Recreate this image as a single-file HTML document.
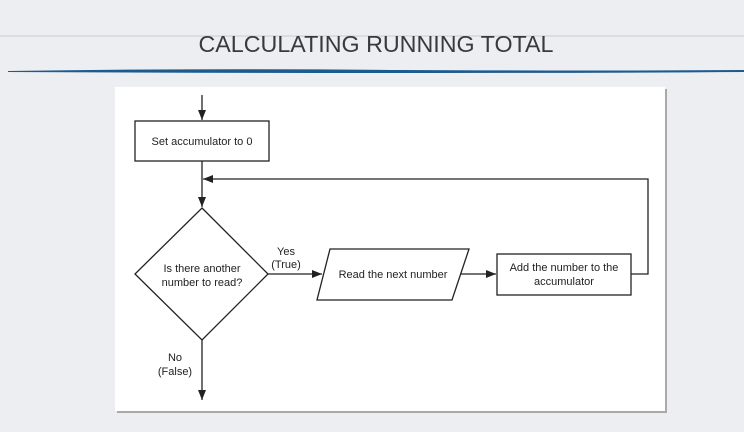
<!DOCTYPE html>
<html><head><style>
html,body{margin:0;padding:0;width:744px;height:432px;overflow:hidden;background:#eceef2;font-family:"Liberation Sans",sans-serif;}
</style></head><body>
<svg width="744" height="432" xmlns="http://www.w3.org/2000/svg" style="position:absolute;left:0;top:0">
<defs><marker id="a" markerWidth="10" markerHeight="8" refX="10" refY="4" orient="auto" markerUnits="userSpaceOnUse"><path d="M0,0 L10,4 L0,8z" fill="#222"/></marker></defs>
<line x1="0" y1="36" x2="744" y2="36" stroke="#c8c9cc" stroke-width="1"/>
<text x="376" y="52" text-anchor="middle" font-family="Liberation Sans,sans-serif" font-size="23" fill="#3a3a3a" textLength="355" lengthAdjust="spacingAndGlyphs">CALCULATING RUNNING TOTAL</text>
<path d="M8,71 Q200,68 400,70 Q600,71 744,70 L744,72 Q600,73 400,73 Q200,73 8,72z" fill="#1d5a8e"/>
<rect x="117" y="89" width="550" height="324" fill="#a9a9a9"/>
<rect x="115" y="87" width="550" height="324" fill="#fff"/>
<g stroke="#222" stroke-width="1.3" fill="none" font-family="Liberation Sans,sans-serif">
<line x1="202" y1="95" x2="202" y2="120" marker-end="url(#a)"/>
<rect x="135" y="121" width="134" height="40"/>
<line x1="202" y1="161" x2="202" y2="207" marker-end="url(#a)"/>
<polyline points="631,274 648,274 648,179 203,179" marker-end="url(#a)"/>
<polygon points="202,208 268,274 202,340 135,274"/>
<line x1="268" y1="274" x2="322" y2="274" marker-end="url(#a)"/>
<polygon points="330,249 469,249 452,300 317,300"/>
<line x1="461" y1="274" x2="496" y2="274" marker-end="url(#a)"/>
<rect x="497" y="254" width="134" height="41"/>
<line x1="202" y1="340" x2="202" y2="400" marker-end="url(#a)"/>
</g>
<g font-family="Liberation Sans,sans-serif" font-size="11" fill="#222" text-anchor="middle">
<text x="202" y="145">Set accumulator to 0</text>
<text x="202" y="272">Is there another</text>
<text x="202" y="286">number to read?</text>
<text x="286" y="255">Yes</text>
<text x="286" y="268">(True)</text>
<text x="393" y="278">Read the next number</text>
<text x="564" y="271">Add the number to the</text>
<text x="564" y="285">accumulator</text>
<text x="175" y="361">No</text>
<text x="175" y="375">(False)</text>
</g>
</svg>
</body></html>
